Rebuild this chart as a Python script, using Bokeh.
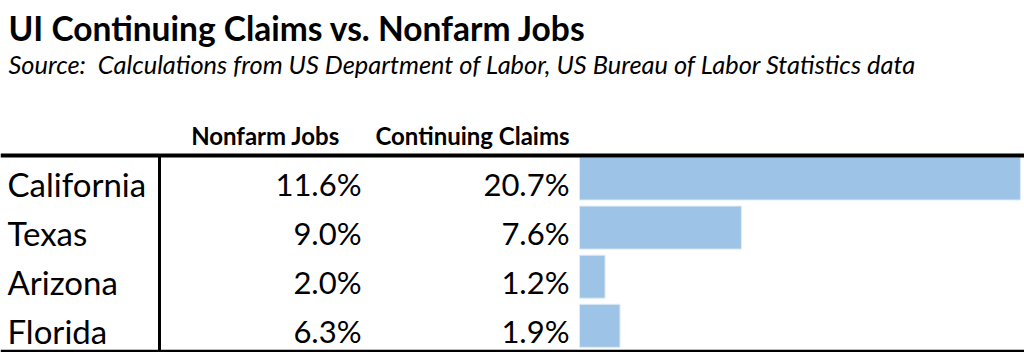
from bokeh.plotting import figure
from bokeh.models import Range1d, ColumnDataSource, Label
from bokeh.core.properties import value
from bokeh.embed import file_html
from bokeh.resources import INLINE

# ---- data ----
states = ["California", "Texas", "Arizona", "Florida"]
nonfarm_jobs = [11.6, 9.0, 2.0, 6.3]
continuing_claims = [20.7, 7.6, 1.2, 1.9]
col_headers = ["Nonfarm Jobs", "Continuing Claims"]
title_text = "UI Continuing Claims vs. Nonfarm Jobs"
subtitle_text = "Source:\u00a0 Calculations from US Department of Labor, US Bureau of Labor Statistics data"

FONT = "Lato"
W, H = 1024, 352

p = figure(width=W, height=H, output_backend="svg", toolbar_location=None,
           x_range=Range1d(0, W), y_range=Range1d(H, 0), min_border=0,
           background_fill_color="white", border_fill_color="white")
p.axis.visible = False
p.grid.visible = False
p.outline_line_color = None

# bar scale: 0% at px 579, ~21.3 px per percentage point
bar_x0 = 579.0
px_per_pct = 21.3
p.extra_x_ranges = {"pct": Range1d(-bar_x0 / px_per_pct, (W - bar_x0) / px_per_pct)}

row_top = 155.0
row_pitch = 49.1
centers = [row_top + 23.0 + row_pitch * i for i in range(len(states))]
text_mid = [c + 5.0 for c in centers]

src = ColumnDataSource(dict(
    y=centers, ym=text_mid, state=states,
    nf=[f"{v:.1f}%" for v in nonfarm_jobs],
    cc=[f"{v:.1f}%" for v in continuing_claims],
    claims=continuing_claims,
    zero=[0] * len(states),
))

# bars
p.hbar(y="y", left="zero", right="claims", height=43, source=src,
       x_range_name="pct", fill_color="#9DC3E6", line_color="#DDEBF7", line_width=1)

# table lines
p.segment(x0=[0], y0=[155], x1=[W], y1=[155], line_color="black", line_width=4)
p.segment(x0=[0], y0=[350.5], x1=[W], y1=[350.5], line_color="black", line_width=2.5)
p.segment(x0=[159], y0=[155], x1=[159], y1=[H], line_color="black", line_width=3)

# row texts
p.text(x=7, y="ym", text="state", source=src, text_font=value(FONT),
       text_font_size="33px", text_align="left", text_baseline="middle",
       text_color="black")
p.text(x=361, y="ym", text="nf", source=src, text_font=value(FONT),
       text_font_size="31px", text_align="right", text_baseline="middle",
       text_color="black")
p.text(x=569, y="ym", text="cc", source=src, text_font=value(FONT),
       text_font_size="31px", text_align="right", text_baseline="middle",
       text_color="black")

# headers
p.text(x=[265, 472], y=[135, 135], text=col_headers, text_font=value(FONT),
       text_font_size="24px", text_font_style="bold", text_align="center",
       text_baseline="middle", text_color="black")

# title & subtitle
p.add_layout(Label(x=8, y=27, text=title_text, text_font=FONT, text_font_size="33.5px",
                   text_font_style="bold", text_baseline="middle", text_color="black"))
p.add_layout(Label(x=8, y=63, text=subtitle_text, text_font=FONT, text_font_size="25.4px",
                   text_font_style="italic", text_baseline="middle", text_color="black"))

open("out.html", "w").write(file_html(p, INLINE))
